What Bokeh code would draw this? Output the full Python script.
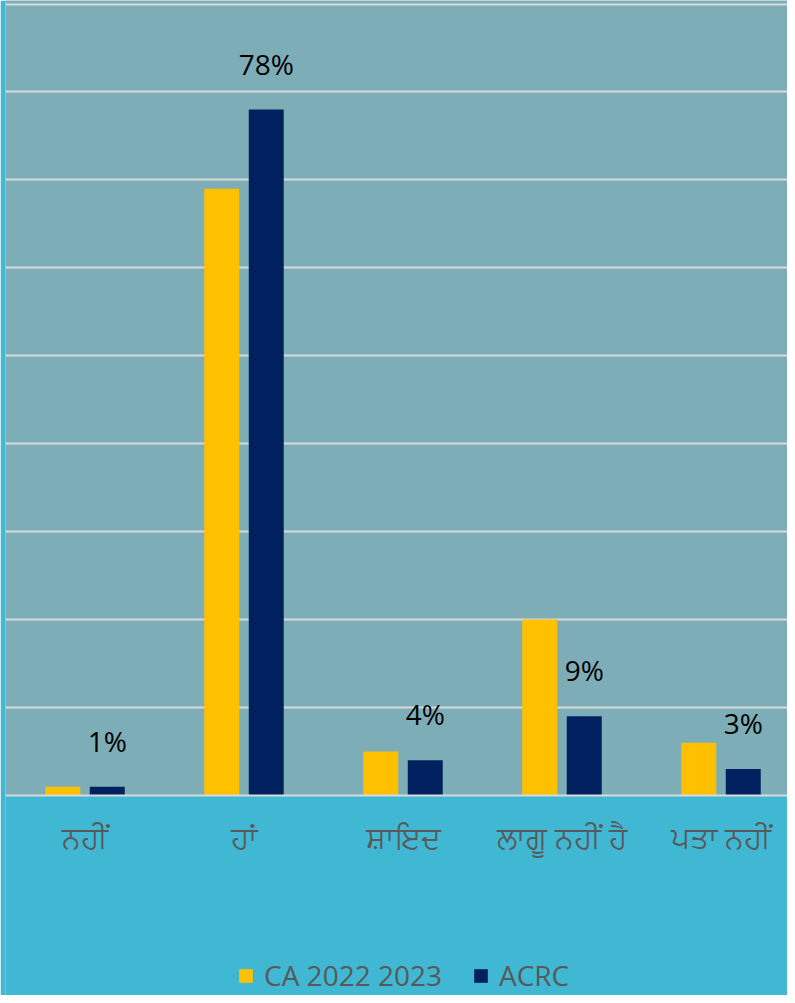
from bokeh.plotting import figure
from bokeh.models import (Range1d, FixedTicker, Legend, LegendItem,
                          ColumnDataSource, BoxAnnotation)
from bokeh.transform import dodge
from bokeh.core.properties import value
from bokeh.embed import file_html
from bokeh.resources import INLINE

categories = ["ਨਹੀਂ", "ਹਾਂ", "ਸ਼ਾਇਦ", "ਲਾਗੂ ਨਹੀਂ ਹੈ", "ਪਤਾ ਨਹੀਂ"]
ca_2022_2023 = [1, 69, 5, 20, 6]
acrc = [1, 78, 4, 9, 3]
series_names = ["CA 2022 2023", "ACRC"]

BG = "#40B8D3"
PLOT_BG = "#7DAEB8"
YELLOW = "#FFC000"
NAVY = "#002060"
GREY_TXT = "#595959"
GRID = "#D9D9D9"
FONT = "Open Sans"

W, H = 787, 995
PLOT_H = 795            # pixels from top to the zero line
Y_TOP = 90.4
Y_BOTTOM = -Y_TOP * (H - PLOT_H) / PLOT_H

xs = list(range(1, len(categories) + 1))
src = ColumnDataSource(dict(
    x=xs, ca=ca_2022_2023, acrc=acrc,
    lab=[f"{v}%" for v in acrc],
))

p = figure(width=W, height=H, output_backend="svg", toolbar_location=None,
           x_range=Range1d(0.5, 0.5 + 782 / 159), y_range=Range1d(Y_BOTTOM, Y_TOP),
           min_border_left=5, min_border_right=0, min_border_top=0,
           min_border_bottom=0)
p.background_fill_color = PLOT_BG
p.border_fill_color = BG
p.outline_line_color = None

p.add_layout(BoxAnnotation(top=0, fill_color=BG, fill_alpha=1.0,
                           line_color=None, level="underlay"))

r1 = p.vbar(x=dodge("x", -0.14, range=p.x_range), top="ca", width=0.22,
            source=src, fill_color=YELLOW, line_color=None)
r2 = p.vbar(x=dodge("x", 0.14, range=p.x_range), top="acrc", width=0.22,
            source=src, fill_color=NAVY, line_color=None)

p.text(x=dodge("x", 0.14, range=p.x_range), y="acrc", text="lab", source=src,
       text_align="center", text_baseline="middle", y_offset=-46,
       text_font=value(FONT), text_font_size="28px", text_color="black")

p.yaxis.visible = False
p.ygrid.ticker = FixedTicker(ticks=list(range(10, 91, 10)))
p.ygrid.grid_line_color = GRID
p.ygrid.grid_line_width = 2
p.xgrid.grid_line_color = None

ax = p.xaxis[0]
ax.fixed_location = 0
ax.ticker = FixedTicker(ticks=xs)
ax.major_label_overrides = {x: c for x, c in zip(xs, categories)}
ax.axis_line_color = GRID
ax.axis_line_width = 2
ax.major_tick_line_color = None
ax.minor_tick_line_color = None
ax.major_tick_out = 0
ax.major_label_standoff = 20
ax.major_label_text_font = FONT
ax.major_label_text_font_size = "30px"
ax.major_label_text_color = GREY_TXT

legend = Legend(items=[LegendItem(label=series_names[0], renderers=[r1]),
                       LegendItem(label=series_names[1], renderers=[r2])],
                orientation="horizontal", location=(232, 1),
                glyph_width=17, glyph_height=17, label_text_font=FONT,
                label_text_font_size="28px", label_text_color=GREY_TXT,
                background_fill_alpha=0, border_line_color=None,
                spacing=30, padding=0, margin=0, label_standoff=10)
p.add_layout(legend, "center")

open("out.html", "w").write(file_html(p, INLINE))
